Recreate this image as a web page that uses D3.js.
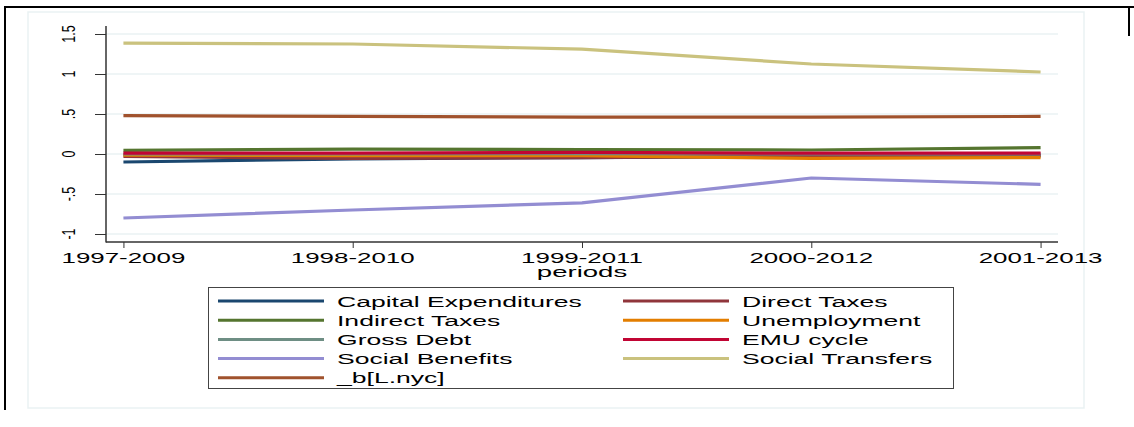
<!DOCTYPE html>
<html>
<head>
<meta charset="utf-8">
<script src="https://cdn.jsdelivr.net/npm/d3@7/dist/d3.min.js"></script>
<style>
  html, body { margin: 0; padding: 0; background: #fff; }
  svg { display: block; }
  text { font-family: "Liberation Sans", Arial, sans-serif; fill: #000; }
</style>
</head>
<body>
<svg id="chart" width="1134" height="427"></svg>
<script>
// Rolling-window periods and estimated coefficients per series
const periods = ["1997-2009", "1998-2010", "1999-2011", "2000-2012", "2001-2013"];

const capitalExpenditures = [-0.10, -0.06, -0.045, -0.03, -0.025];
const directTaxes         = [-0.03, -0.055, -0.045, -0.025, -0.02];
const indirectTaxes       = [0.045, 0.06, 0.055, 0.05, 0.08];
const unemployment        = [-0.015, -0.02, -0.02, -0.055, -0.045];
const grossDebt           = [0.0, 0.0, 0.005, 0.0, 0.0];
const emuCycle            = [0.01, 0.01, 0.02, 0.01, 0.01];
const socialBenefits      = [-0.80, -0.70, -0.61, -0.30, -0.38];
const socialTransfers     = [1.385, 1.375, 1.31, 1.125, 1.025];
const bLnyc               = [0.48, 0.47, 0.46, 0.46, 0.47];

const yTicks = [-1, -0.5, 0, 0.5, 1, 1.5];
const yTickLabels = ["-1", "-.5", "0", ".5", "1", "1.5"];

const seriesNames  = ["Capital Expenditures", "Direct Taxes", "Indirect Taxes", "Unemployment",
                      "Gross Debt", "EMU cycle", "Social Benefits", "Social Transfers", "_b[L.nyc]"];
const seriesValues = [capitalExpenditures, directTaxes, indirectTaxes, unemployment,
                      grossDebt, emuCycle, socialBenefits, socialTransfers, bLnyc];
const seriesColors = ["#1a476f", "#90353b", "#55752f", "#e37e00",
                      "#6e8e84", "#c10534", "#938dd2", "#cac27e", "#a0522d"];

const svg = d3.select("#chart");

// outer frame
svg.append("line").attr("x1", 5).attr("x2", 1134).attr("y1", 7).attr("y2", 7)
  .attr("stroke", "#000").attr("stroke-width", 2);
svg.append("line").attr("x1", 5).attr("x2", 5).attr("y1", 6).attr("y2", 410)
  .attr("stroke", "#000").attr("stroke-width", 2);
svg.append("line").attr("x1", 1129).attr("x2", 1129).attr("y1", 6).attr("y2", 36)
  .attr("stroke", "#000").attr("stroke-width", 2);

// graph region
svg.append("rect").attr("x", 28).attr("y", 12).attr("width", 1056).attr("height", 396)
  .attr("fill", "#fff").attr("stroke", "#eaf2f3").attr("stroke-width", 1.5);

const plot = { left: 106, right: 1058, top: 26, bottom: 242 };

const x = d3.scalePoint().domain(periods).range([plot.left, plot.right]).padding(0.076);
const y = d3.scaleLinear().domain([-1.1, 1.6]).range([plot.bottom, plot.top]);

// gridlines
svg.append("g").selectAll("line").data(yTicks).join("line")
  .attr("x1", plot.left).attr("x2", plot.right)
  .attr("y1", d => y(d)).attr("y2", d => y(d))
  .attr("stroke", "#eaf2f3").attr("stroke-width", 1.5);

// y axis
const yAxis = svg.append("g").attr("transform", `translate(${plot.left},0)`)
  .call(d3.axisLeft(y).tickValues(yTicks).tickSize(11).tickFormat(""));
yAxis.select(".domain").remove();
yAxis.selectAll(".tick line").attr("stroke", "#333").attr("stroke-width", 1);
svg.append("line").attr("x1", plot.left).attr("x2", plot.left)
  .attr("y1", plot.top).attr("y2", plot.bottom + 0.5)
  .attr("stroke", "#333").attr("stroke-width", 1.5);

svg.append("g").selectAll("text").data(yTicks).join("text")
  .attr("transform", d => `translate(75,${y(d)}) scale(1.4,1) rotate(-90)`)
  .attr("text-anchor", "middle")
  .attr("font-size", 12.5)
  .text((d, i) => yTickLabels[i]);

// x axis
const xAxis = svg.append("g").attr("transform", `translate(0,${plot.bottom})`)
  .call(d3.axisBottom(x).tickSize(6).tickFormat(""));
xAxis.select(".domain").remove();
xAxis.selectAll(".tick line").attr("stroke", "#333").attr("stroke-width", 1);
svg.append("line").attr("x1", plot.left).attr("x2", plot.right)
  .attr("y1", plot.bottom).attr("y2", plot.bottom)
  .attr("stroke", "#333").attr("stroke-width", 1.5);

svg.append("g").selectAll("text").data(periods).join("text")
  .attr("transform", d => `translate(${x(d)},263) scale(1.85,1)`)
  .attr("text-anchor", "middle")
  .attr("font-size", 14)
  .text(d => d);

svg.append("text")
  .attr("transform", `translate(${(plot.left + plot.right) / 2},277) scale(1.9,1)`)
  .attr("text-anchor", "middle")
  .attr("font-size", 14.5)
  .text("periods");

// series lines
const line = d3.line().x((d, i) => x(periods[i])).y(d => y(d));
svg.append("g").selectAll("path").data(seriesValues).join("path")
  .attr("d", d => line(d))
  .attr("fill", "none")
  .attr("stroke", (d, i) => seriesColors[i])
  .attr("stroke-width", 3.2);

// legend
const legend = svg.append("g");
legend.append("rect").attr("x", 208.5).attr("y", 287.5).attr("width", 745).attr("height", 101)
  .attr("fill", "#fff").attr("stroke", "#444").attr("stroke-width", 1);

const colX = [218, 623];
const rowY0 = 301, rowStep = 19.2;
const items = legend.selectAll("g.item").data(seriesNames).join("g")
  .attr("class", "item")
  .attr("transform", (d, i) => `translate(${colX[i % 2]},${rowY0 + Math.floor(i / 2) * rowStep})`);
items.append("line").attr("x1", 0).attr("x2", 106).attr("y1", 0).attr("y2", 0)
  .attr("stroke", (d, i) => seriesColors[i]).attr("stroke-width", 3);
items.append("text")
  .attr("transform", "translate(119,5.5) scale(1.77,1)")
  .attr("font-size", 15)
  .text(d => d);
</script>
</body>
</html>
